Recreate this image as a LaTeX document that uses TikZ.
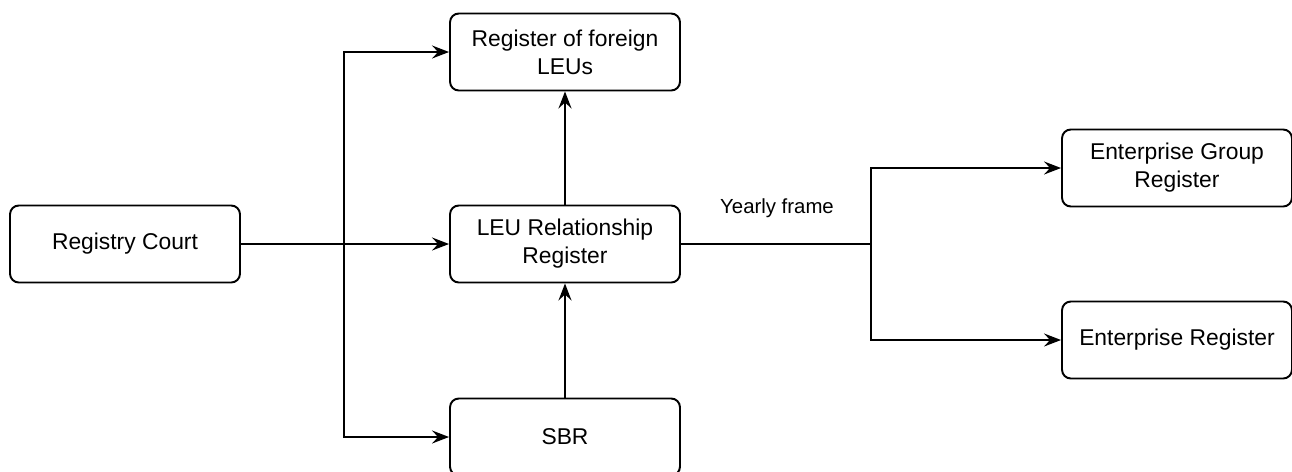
\documentclass[tikz,border=0pt]{standalone}
\usepackage{fontspec}
\setmainfont{Liberation Sans}
\usepackage{xcolor}
\usetikzlibrary{positioning,arrows.meta,calc}
\tikzset{
  regbox/.style={draw, line width=1.1pt, rounded corners=5pt, fill=white,
                 minimum width=4.6cm, minimum height=1.54cm, align=center,
                 font=\fontsize{13}{16}\selectfont},
  flow/.style={-{Stealth[length=3.4mm, width=2.6mm, inset=1.2mm]}, line width=1.1pt},
  link/.style={line width=1.1pt},
  lbl/.style={font=\fontsize{11.6}{14}\selectfont, inner sep=1pt}
}
\begin{document}
\begin{tikzpicture}[x=0.02cm, y=-0.02cm]
\useasboundingbox (0,0) rectangle (1292,471);
\node[regbox] (court) at (125,244) {Registry Court};
\node[regbox] (leu) at (565,244) {LEU Relationship\\Register};
\node[regbox] (foreign) at (565,52) {Register of foreign\\LEUs};
\node[regbox] (sbr) at (565,437) {SBR};
\node[regbox] (group) at (1177,168) {Enterprise Group\\Register};
\node[regbox] (ent) at (1177,340) {Enterprise Register};
\coordinate (split) at (344,244);
\coordinate (yearly) at (871,244);
\draw[flow] (court) -- (leu);
\draw[flow] (split) |- (foreign);
\draw[flow] (split) |- (sbr);
\draw[flow] (leu) -- (foreign);
\draw[flow] (sbr) -- (leu);
\draw[link] (leu) -- (yearly);
\draw[flow] (yearly) |- (group);
\draw[flow] (yearly) |- (ent);
\node[lbl] (frame) at (777,208) {Yearly frame};
\end{tikzpicture}
\end{document}
